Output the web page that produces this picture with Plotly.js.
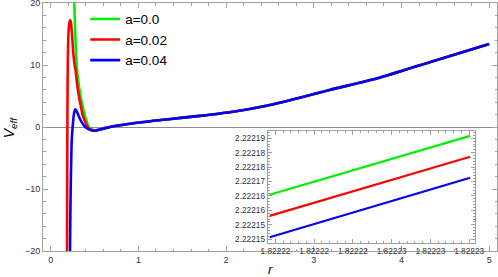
<!DOCTYPE html>
<html><head><meta charset="utf-8">
<script src="https://cdn.plot.ly/plotly-3.0.1.min.js"></script>
<style>html,body{margin:0;padding:0;background:#fff}#c{width:498px;height:277px}</style>
</head><body><div id="c"></div>
<script>
// Main panel: V_eff(r)
const labels = ["a=0.0", "a=0.02", "a=0.04"];
const colors = ["#00ee00", "#ff0000", "#0000ff"];

const rTail = [0.562, 0.62, 0.676, 0.942, 1.32, 1.70, 2.08, 2.46, 2.84, 3.18, 3.75, 4.33, 5.0];
const vTail = [-0.4, -0.18, 0, 0.6, 1.22, 1.8, 2.47, 3.44, 4.73, 5.97, 7.95, 10.5, 13.4];

const rA0 = [0.262, 0.269, 0.28, 0.298, 0.318, 0.338, 0.36, 0.388, 0.41, 0.43, 0.47, 0.51];
const vA0 = [23, 20, 15, 9.6, 7.0, 5.2, 3.6, 1.9, 0.9, 0.1, -0.4, -0.6];

const rA02 = [0.185, 0.186, 0.188, 0.190, 0.193, 0.198, 0.205, 0.215, 0.224, 0.233, 0.245, 0.258, 0.275, 0.285, 0.30, 0.319, 0.34, 0.365, 0.40, 0.43, 0.47, 0.51];
const vA02 = [-25, -20, -8, 0, 8, 13, 15.8, 17, 17.2, 16.6, 14.5, 11.8, 9.8, 9.0, 7.0, 5.2, 3.6, 1.9, 0.6, -0.2, -0.5, -0.6];

const rA04 = [0.218, 0.220, 0.225, 0.23, 0.235, 0.24, 0.25, 0.26, 0.27, 0.281, 0.29, 0.31, 0.33, 0.35, 0.37, 0.395, 0.43, 0.47, 0.51];
const vA04 = [-25, -20, -13, -8, -4.5, -2, 0, 1.6, 2.5, 2.85, 2.7, 2.1, 1.4, 0.86, 0.4, 0, -0.35, -0.55, -0.6];

// Inset (zoom near r = 1.82222)
const insetX = [1.8222197, 1.82223005];
const insetA0 = [2.2221654, 2.2221858];
const insetA02 = [2.2221581, 2.2221786];
const insetA04 = [2.2221507, 2.2221713];
const insetXTicks = [1.822220, 1.822222, 1.822224, 1.822226, 1.822228, 1.822230];
const insetXLabels = ["1.82222", "1.82222", "1.82222", "1.82223", "1.82223", "1.82223"];
const insetYTicks = [2.222150, 2.222155, 2.222160, 2.222165, 2.222170, 2.222175, 2.222180, 2.222185];
const insetYLabels = ["2.22215", "2.22215", "2.22216", "2.22216", "2.22217", "2.22218", "2.22218", "2.22219"];

const mainR = [rA0.concat(rTail), rA02.concat(rTail), rA04.concat(rTail)];
const mainV = [vA0.concat(vTail), vA02.concat(vTail), vA04.concat(vTail)];
const insetY = [insetA0, insetA02, insetA04];

const traces = [];
for (let i = 0; i < 3; i++) {
  traces.push({x: mainR[i], y: mainV[i], type: 'scatter', mode: 'lines', name: labels[i],
    legendgroup: 'g' + i, line: {color: colors[i], width: 2.6, shape: 'spline', smoothing: 0.6}});
}
for (let i = 0; i < 3; i++) {
  traces.push({x: insetX, y: insetY[i], type: 'scatter', mode: 'lines', showlegend: false,
    xaxis: 'x2', yaxis: 'y2', line: {color: colors[i], width: 2.2}});
}

const frame = '#a0a0a0';
const tickFont = {family: 'Liberation Sans, Arial, sans-serif', size: 9, color: '#333'};
const layout = {
  width: 498, height: 277,
  margin: {l: 43, r: 1, t: 3, b: 26},
  paper_bgcolor: '#fff', plot_bgcolor: '#fff',
  font: {family: 'Liberation Sans, Arial, sans-serif'},
  showlegend: true,
  legend: {x: 0.093, y: 0.997, xanchor: 'left', yanchor: 'top', bgcolor: 'rgba(0,0,0,0)',
    font: {size: 13.5, color: '#000'}, tracegroupgap: 0},
  xaxis: {range: [-0.088, 5.089], tickvals: [0, 1, 2, 3, 4, 5], ticks: 'inside', ticklen: 5, tickcolor: frame,
    showline: true, linecolor: frame, linewidth: 1, mirror: 'ticks', showgrid: false, zeroline: false,
    ticklabeloverflow: 'allow',
    tickfont: tickFont, minor: {dtick: 0.2, tick0: 0, ticks: 'inside', ticklen: 2.5, tickcolor: frame, showgrid: false}},
  yaxis: {range: [-20, 20], tickvals: [-20, -10, 0, 10, 20], ticks: 'inside', ticklen: 5, tickcolor: frame,
    showline: true, linecolor: frame, linewidth: 1, mirror: 'ticks', showgrid: false,
    ticklabeloverflow: 'allow',
    zeroline: true, zerolinecolor: '#8c8c8c', zerolinewidth: 1, tickfont: tickFont,
    minor: {dtick: 2, tick0: 0, ticks: 'inside', ticklen: 2.5, tickcolor: frame, showgrid: false}},
  xaxis2: {domain: [0.495, 0.9515], anchor: 'y2', range: [1.8222196, 1.8222303],
    tickmode: 'array', tickvals: insetXTicks, ticktext: insetXLabels, ticks: 'inside', ticklen: 4, tickcolor: frame,
    showline: true, linecolor: frame, mirror: 'ticks', showgrid: false, zeroline: false,
    tickfont: {family: 'Liberation Sans, Arial, sans-serif', size: 8.3, color: '#333'},
    minor: {tick0: 1.822220, dtick: 4e-7, ticks: 'inside', ticklen: 2, tickcolor: frame, showgrid: false}},
  yaxis2: {domain: [0.0323, 0.485], anchor: 'x2', range: [2.2221487, 2.2221876],
    tickmode: 'array', tickvals: insetYTicks, ticktext: insetYLabels, ticks: 'inside', ticklen: 4, tickcolor: frame,
    showline: true, linecolor: frame, mirror: 'ticks', showgrid: false, zeroline: false,
    tickfont: {family: 'Liberation Sans, Arial, sans-serif', size: 8.3, color: '#333'},
    minor: {tick0: 2.222150, dtick: 1e-6, ticks: 'inside', ticklen: 2, tickcolor: frame, showgrid: false}},
  annotations: [
    {text: '<i>V</i><sub><i>eff</i></sub>', xref: 'paper', yref: 'paper', x: -0.072, y: 0.5, xanchor: 'center', yanchor: 'middle',
      textangle: -90, showarrow: false, font: {size: 14, color: '#000'}},
    {text: '<i>r</i>', xref: 'paper', yref: 'paper', x: 0.5, y: -0.076, xanchor: 'center', yanchor: 'middle',
      showarrow: false, font: {size: 13, color: '#000'}}
  ]
};
Plotly.newPlot('c', traces, layout, {staticPlot: true, displayModeBar: false});
</script></body></html>
